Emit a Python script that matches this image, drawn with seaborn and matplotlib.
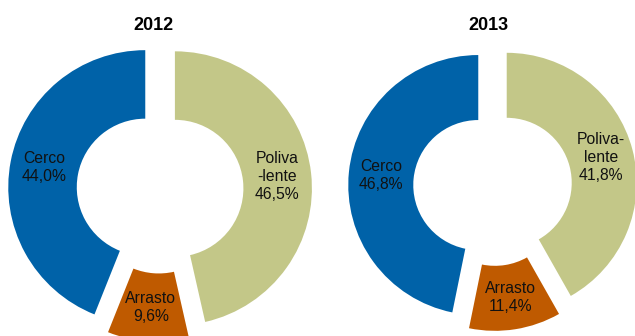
import math
import matplotlib
matplotlib.use("Agg")
import matplotlib.pyplot as plt
import seaborn as sns

# Fleet segments, listed clockwise from 12 o'clock
segments = ["Polivalente", "Arrasto", "Cerco"]
years = ["2012", "2013"]
shares_2012 = [46.5, 9.6, 44.0]
shares_2013 = [41.8, 11.4, 46.8]
labels_2012 = ["Poliva\n-lente", "Arrasto", "Cerco"]
labels_2013 = ["Poliva-\nlente", "Arrasto", "Cerco"]

sns.set_style("white")
plt.rcParams["font.family"] = ["Liberation Sans", "DejaVu Sans"]
palette = sns.color_palette(["#C3C788", "#BF5A00", "#0062A8"])

W, H = 635, 336
fig = plt.figure(figsize=(W / 100, H / 100), dpi=100)
ax = fig.add_axes([0, 0, 1, 1])

# donut layout in pixel units: (centre x, centre y, radius, explode, title x)
layouts = [
    (160.0, 146.0, 137.0, 15.0, 153.0),
    (492.7, 149.5, 130.0, 14.5, 488.0),
]
series = [shares_2012, shares_2013]
label_sets = [labels_2012, labels_2013]

for year, values, labels, (cx, cy, r, expl, tx) in zip(years, series, label_sets, layouts):
    wedges, _ = ax.pie(
        values,
        colors=palette,
        startangle=90,
        counterclock=False,
        center=(cx, cy),
        radius=r,
        explode=[expl] * len(values),
        wedgeprops=dict(width=0.5 * r, linewidth=0, edgecolor="none"),
        frame=True,
    )
    for w, lab, v in zip(wedges, labels, values):
        mid = math.radians((w.theta1 + w.theta2) / 2)
        wx, wy = w.center
        lx = wx + 0.75 * w.r * math.cos(mid)
        ly = wy + 0.75 * w.r * math.sin(mid)
        txt = f"{lab}\n{v:.1f}%".replace(".", ",")
        ax.text(lx, ly, txt, ha="center", va="center", fontsize=11.3,
                linespacing=1.25, color="#111111")
    ax.text(tx, H - 25, year, ha="center", va="center", fontsize=13,
            fontweight="bold", color="black")

ax.set_xlim(0, W)
ax.set_ylim(0, H)
ax.set_aspect("auto")
ax.axis("off")

fig.savefig("out.png", dpi=100, facecolor="white")
